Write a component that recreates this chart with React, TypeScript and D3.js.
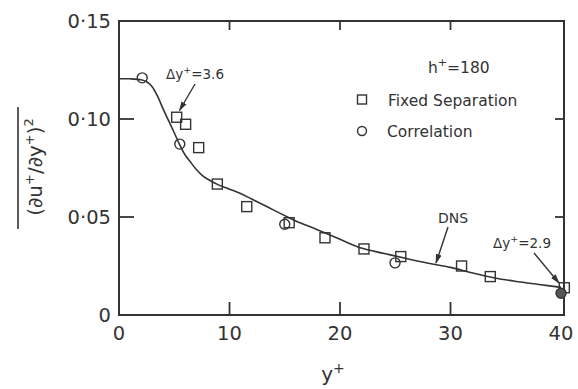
import React from 'react'
import { scaleLinear, line, curveCatmullRom } from 'd3'

// DNS curve (y+, value)
const dnsX = [0, 1, 2, 2.5, 3, 3.5, 4, 4.5, 5, 5.5, 6, 6.5, 7, 7.5, 8, 9, 10, 11, 12, 13, 14, 15, 16, 18, 20, 22, 24, 26, 28, 30, 32, 34, 36, 38, 40]
const dnsY = [0.1205, 0.1205, 0.12, 0.119, 0.1165, 0.1115, 0.105, 0.099, 0.093, 0.0868, 0.0815, 0.0778, 0.0742, 0.0714, 0.0694, 0.0664, 0.0642, 0.062, 0.0592, 0.0564, 0.0535, 0.0507, 0.048, 0.0434, 0.0386, 0.034, 0.0314, 0.0288, 0.0264, 0.0243, 0.0214, 0.0189, 0.0171, 0.0156, 0.0141]

// Fixed Separation (squares)
const sqX = [5.22, 6.03, 7.21, 8.9, 11.56, 15.4, 18.64, 22.17, 25.5, 31.0, 33.6, 40.3]
const sqY = [0.1009, 0.0973, 0.0854, 0.0668, 0.0553, 0.0471, 0.0394, 0.0337, 0.0298, 0.025, 0.0196, 0.0139]

// Correlation (circles)
const ciX = [2.1, 5.5, 15.0, 24.98, 40.0]
const ciY = [0.121, 0.0872, 0.0463, 0.0266, 0.0111]

const xTicks = [0, 10, 20, 30, 40]
const yTicks = [0, 0.05, 0.1, 0.15]

const W = 578
const H = 389
const ink = '#333'
const font = '"DejaVu Sans", Verdana, sans-serif'

const fmtY = (v: number) => (v === 0 ? '0' : v.toFixed(2).replace('.', '\u00B7'))

const App = () => {
  const x = scaleLinear().domain([0, 40.27]).range([119, 564])
  const y = scaleLinear().domain([0, 0.15]).range([315, 21])

  const dns = dnsX.map((d, i) => [d, dnsY[i]] as [number, number])
  const path = line<[number, number]>()
    .x(d => x(d[0]))
    .y(d => y(d[1]))
    .curve(curveCatmullRom.alpha(0.5))(dns)

  const inner = yTicks.filter(t => t > 0 && t < 0.15)
  const innerX = xTicks.filter(t => t > 0 && t < 40)

  return (
    <svg width={W} height={H} viewBox={`0 0 ${W} ${H}`}
      style={{ position: 'absolute', left: 0, top: 0, background: '#fff' }}
      fontFamily={font}>
      <defs>
        <marker id="ah" viewBox="0 0 10 10" refX="9" refY="5" markerWidth="7" markerHeight="7" orient="auto">
          <path d="M0,2 L10,5 L0,8 z" fill={ink} />
        </marker>
      </defs>

      {/* frame */}
      <rect x={x(0)} y={y(0.15)} width={x(40.27) - x(0)} height={y(0) - y(0.15)}
        fill="none" stroke={ink} strokeWidth={2} />

      {inner.map(t => (
        <g key={'yt' + t}>
          <line x1={x(0)} x2={x(0) + 15} y1={y(t)} y2={y(t)} stroke={ink} strokeWidth={1.8} />
          <line x1={x(40.27)} x2={x(40.27) - 9} y1={y(t)} y2={y(t)} stroke={ink} strokeWidth={1.8} />
        </g>
      ))}
      {innerX.map(t => (
        <g key={'xt' + t}>
          <line x1={x(t)} x2={x(t)} y1={y(0)} y2={y(0) - 13} stroke={ink} strokeWidth={1.8} />
          <line x1={x(t)} x2={x(t)} y1={y(0.15)} y2={y(0.15) + 9} stroke={ink} strokeWidth={1.8} />
        </g>
      ))}

      {yTicks.map(t => (
        <text key={'yl' + t} x={111} y={y(t)} dy="0.36em" textAnchor="end" fontSize={19.5} fill={ink}>
          {fmtY(t)}
        </text>
      ))}
      {xTicks.map(t => (
        <text key={'xl' + t} x={x(t)} y={340} textAnchor="middle" fontSize={19.5} fill={ink}>
          {t}
        </text>
      ))}

      {/* axis titles */}
      <text x={333} y={381} textAnchor="middle" fontSize={20} fill={ink}>
        y<tspan fontSize={14} dy={-8}>+</tspan>
      </text>
      <g transform="translate(42,167) rotate(-90)">
        <text x={0} y={0} textAnchor="middle" fontSize={20} fill={ink}>
          (∂u<tspan fontSize={13} dy={-8}>+</tspan><tspan dy={8}>/∂y</tspan><tspan fontSize={13} dy={-8}>+</tspan><tspan dy={8}>)</tspan><tspan fontSize={13} dy={-9}>2</tspan>
        </text>
      </g>
      <line x1={18} x2={18} y1={107} y2={229} stroke={ink} strokeWidth={1.6} />

      {/* DNS curve */}
      <path d={path ?? ''} fill="none" stroke={ink} strokeWidth={1.6} />

      {sqX.map((d, i) => (
        <rect key={'sq' + i} x={x(d) - 5} y={y(sqY[i]) - 5} width={10} height={10}
          fill="none" stroke={ink} strokeWidth={1.4} />
      ))}
      {ciX.map((d, i) => (
        <circle key={'ci' + i} cx={x(d)} cy={y(ciY[i])} r={5}
          fill={d >= 40 ? '#555' : 'none'} stroke={ink} strokeWidth={1.4} />
      ))}

      {/* legend */}
      <text x={428} y={73} fontSize={15.5} fill={ink}>
        h<tspan fontSize={11} dy={-7}>+</tspan><tspan dy={7}>=180</tspan>
      </text>
      <rect x={357.5} y={95} width={9} height={9} fill="none" stroke={ink} strokeWidth={1.4} />
      <text x={388} y={106} fontSize={15.5} fill={ink}>Fixed Separation</text>
      <circle cx={362} cy={131} r={4.5} fill="none" stroke={ink} strokeWidth={1.4} />
      <text x={387} y={137} fontSize={15.5} fill={ink}>Correlation</text>

      {/* annotations */}
      <text x={166} y={79} fontSize={13.5} fill={ink}>
        Δy<tspan fontSize={9.5} dy={-6}>+</tspan><tspan dy={6}>=3.6</tspan>
      </text>
      <line x1={195} y1={84} x2={179.5} y2={110.5} stroke={ink} strokeWidth={1.4} markerEnd="url(#ah)" />

      <text x={438} y={223} fontSize={14} fill={ink}>DNS</text>
      <line x1={448} y1={227} x2={436} y2={263} stroke={ink} strokeWidth={1.4} markerEnd="url(#ah)" />

      <text x={493} y={248} fontSize={13.5} fill={ink}>
        Δy<tspan fontSize={9.5} dy={-6}>+</tspan><tspan dy={6}>=2.9</tspan>
      </text>
      <line x1={534} y1={253} x2={559} y2={283} stroke={ink} strokeWidth={1.4} markerEnd="url(#ah)" />
    </svg>
  )
}

export default App
